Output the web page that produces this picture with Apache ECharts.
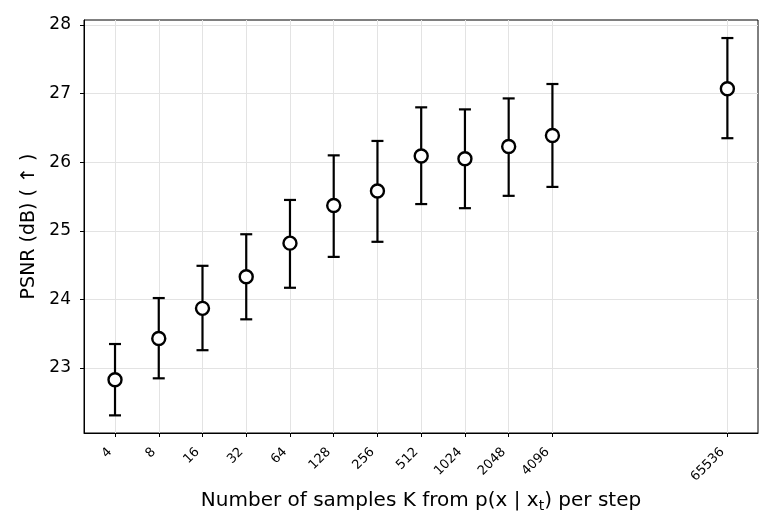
<!DOCTYPE html>
<html>
<head>
<meta charset="utf-8">
<script src="https://cdn.jsdelivr.net/npm/echarts@6/dist/echarts.min.js"></script>
<style>
  html, body { margin: 0; padding: 0; background: #fff; }
  #chart { width: 782px; height: 523px; }
</style>
</head>
<body>
<div id="chart"></div>
<script>
// ===================================================
//  DATOS
// ===================================================
const samples = [4, 8, 16, 32, 64, 128, 256, 512, 1024, 2048, 4096, 65536];
const psnr    = [22.83, 23.43, 23.87, 24.33, 24.82, 25.37, 25.58, 26.09, 26.05, 26.23, 26.39, 27.07];
const lower   = [22.31, 22.85, 23.26, 23.71, 24.17, 24.62, 24.84, 25.39, 25.33, 25.51, 25.64, 26.35];
const upper   = [23.35, 24.02, 24.49, 24.95, 25.45, 26.10, 26.31, 26.80, 26.77, 26.93, 27.14, 27.81];
const yTicks  = [23, 24, 25, 26, 27, 28];

(function () {
    const el = document.getElementById('chart');
    const chart = echarts.init(el);
    const font = 'DejaVu Sans';

    // eje x en log2
    const xs = samples.map(k => Math.log2(k));
    const points = xs.map((x, i) => [x, psnr[i]]);
    const bars = xs.map((x, i) => [x, lower[i], upper[i]]);

    const option = {
        animation: false,
        textStyle: { fontFamily: font },
        grid: {
            left: 84, right: 24, top: 20, bottom: 90,
            show: true, borderColor: '#000', borderWidth: 1
        },
        xAxis: {
            type: 'value',
            min: 1.291,
            max: 16.70,
            name: 'Number of samples K from p(x | x{sub|t}) per step',
            nameLocation: 'middle',
            nameGap: 56,
            nameTextStyle: {
                fontSize: 20, color: '#000', fontFamily: font,
                rich: { sub: { fontSize: 14, color: '#000', fontFamily: font, verticalAlign: 'bottom', padding: [10, 0, 0, 0] } }
            },
            axisLine: { lineStyle: { color: '#000', width: 1 } },
            axisTick: { show: true, length: 4, lineStyle: { color: '#000' }, customValues: xs },
            axisLabel: {
                customValues: xs,
                rotate: 45,
                fontSize: 13,
                color: '#000',
                margin: 12,
                padding: [0, 7, 0, 0],
                fontFamily: font,
                formatter: v => String(Math.round(Math.pow(2, v)))
            },
            splitLine: { show: true, lineStyle: { color: '#e3e3e3', width: 1 } }
        },
        yAxis: {
            type: 'value',
            min: 22.053,
            max: 28.073,
            name: 'PSNR (dB) ( ↑ )',
            nameLocation: 'middle',
            nameGap: 44,
            nameTextStyle: { fontSize: 19, color: '#000', fontFamily: font },
            axisLine: { show: true, lineStyle: { color: '#000', width: 1 } },
            axisTick: { show: true, length: 4, lineStyle: { color: '#000' }, customValues: yTicks },
            axisLabel: { customValues: yTicks, fontSize: 17, color: '#000', margin: 13, fontFamily: font },
            splitLine: { show: true, lineStyle: { color: '#e3e3e3', width: 1 } }
        },
        series: [
            {
                type: 'custom',
                data: bars,
                z: 2,
                silent: true,
                renderItem: function (params, api) {
                    const x = api.value(0);
                    const lo = api.coord([x, api.value(1)]);
                    const hi = api.coord([x, api.value(2)]);
                    const w = 6;
                    const style = { stroke: '#000', lineWidth: 2.2, fill: null };
                    return {
                        type: 'group',
                        children: [
                            { type: 'line', shape: { x1: lo[0], y1: lo[1], x2: hi[0], y2: hi[1] }, style: style },
                            { type: 'line', shape: { x1: lo[0] - w, y1: lo[1], x2: lo[0] + w, y2: lo[1] }, style: style },
                            { type: 'line', shape: { x1: hi[0] - w, y1: hi[1], x2: hi[0] + w, y2: hi[1] }, style: style }
                        ]
                    };
                }
            },
            {
                type: 'scatter',
                data: points,
                z: 3,
                silent: true,
                symbol: 'circle',
                symbolSize: 13,
                itemStyle: { color: '#fff', borderColor: '#000', borderWidth: 2.4, opacity: 1 }
            }
        ]
    };

    chart.setOption(option);
})();
</script>
</body>
</html>
